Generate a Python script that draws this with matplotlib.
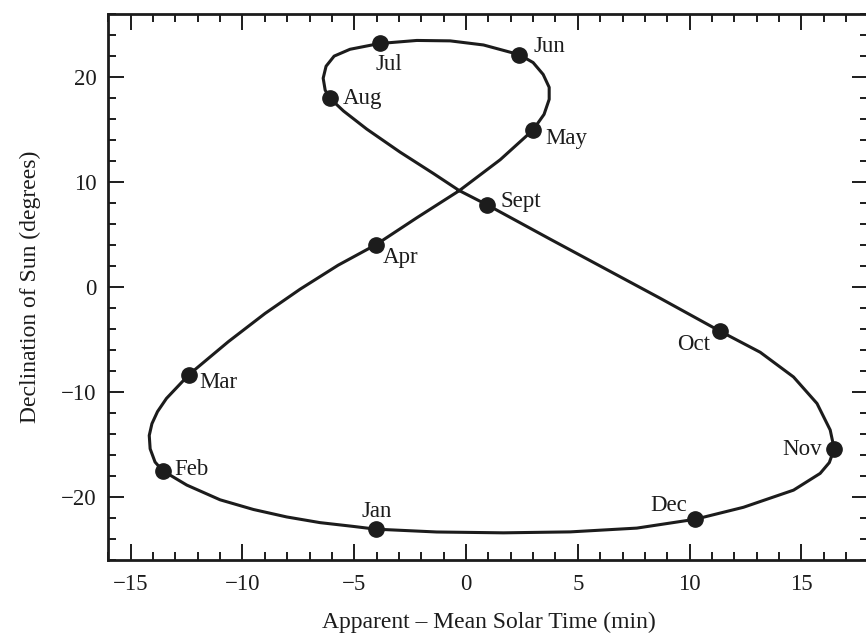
import matplotlib
matplotlib.use('Agg')
import matplotlib.pyplot as plt
from matplotlib.ticker import MultipleLocator

# points, starting at Jan and going round the year
curve_x = [-4.04, -5.04, -6.53, -8.02, -9.51, -11.0, -12.49, -13.57, -13.91, -14.13,
           -14.17, -14.05, -13.80, -13.40, -12.39, -11.53, -10.63, -8.99, -7.42, -5.72,
           -4.02, -2.20, -0.30, 1.53, 2.99, 3.49, 3.72, 3.72, 3.45, 3.00,
           2.38, 0.78, -0.71, -2.20, -3.87, -5.19, -5.90, -6.26, -6.39, -6.30,
           -6.08, -5.48, -4.44, -2.95, -1.46, -0.30, 0.96, 3.76, 6.22, 8.68,
           11.34, 13.16, 14.65, 15.70, 16.29, 16.47, 16.25, 15.84, 14.65, 12.41,
           10.25, 7.64, 4.66, 1.67, -1.31, -4.04]
curve_y = [-23.03, -22.77, -22.41, -21.87, -21.16, -20.24, -18.84, -17.47, -16.65, -15.39,
           -14.12, -13.00, -11.85, -10.60, -8.33, -6.80, -5.20, -2.52, -0.21, 2.07,
           4.03, 6.58, 9.16, 12.10, 14.91, 16.41, 17.84, 18.98, 20.21, 21.34,
           22.09, 23.01, 23.40, 23.44, 23.15, 22.60, 21.95, 20.99, 19.85, 18.71,
           17.93, 16.73, 15.01, 12.82, 10.79, 9.16, 7.79, 4.55, 1.74, -1.07,
           -4.18, -6.21, -8.56, -11.08, -13.60, -15.40, -16.70, -17.73, -19.32, -20.95,
           -22.09, -22.93, -23.29, -23.38, -23.30, -23.03]

months = ['Jan', 'Feb', 'Mar', 'Apr', 'May', 'Jun', 'Jul', 'Aug', 'Sept', 'Oct', 'Nov', 'Dec']
month_x = [-4.04, -13.57, -12.39, -4.02, 2.99, 2.38, -3.87, -6.08, 0.96, 11.34, 16.47, 10.25]
month_y = [-23.03, -17.47, -8.33, 4.03, 14.91, 22.09, 23.15, 17.93, 7.79, -4.18, -15.40, -22.09]

# label offset (pixels) and alignment for each month name
lab_dx = [1, 12, 10, 7, 12, 14, 9, 13, 13, -9, -12, -8]
lab_dy = [18, 1, -8, -13, -8, 8, -21, 0, 4, -14, -1, 14]
lab_ha = ['center', 'left', 'left', 'left', 'left', 'left', 'center', 'left', 'left', 'right', 'right', 'right']

ink = '#1c1c1c'
serif = ['Liberation Serif', 'DejaVu Serif']

fig = plt.figure(figsize=(8.66, 6.35), dpi=100)
ax = fig.add_axes([0.1251, 0.1175, 0.8777, 0.8612])

ax.plot(curve_x, curve_y, color=ink, lw=2.2, solid_capstyle='round', solid_joinstyle='round', zorder=2)
ax.plot(month_x, month_y, 'o', color=ink, ms=11, zorder=3)

for i in range(len(months)):
    ax.annotate(months[i], (month_x[i], month_y[i]), xytext=(lab_dx[i], lab_dy[i]),
                textcoords='offset pixels', ha=lab_ha[i], va='center',
                fontsize=16.5, family=serif, color=ink)

ax.set_xlim(-16, 18)
ax.set_ylim(-26, 26)
ax.xaxis.set_major_locator(MultipleLocator(5))
ax.xaxis.set_minor_locator(MultipleLocator(1))
ax.yaxis.set_major_locator(MultipleLocator(10))
ax.yaxis.set_minor_locator(MultipleLocator(2))

ax.tick_params(which='both', direction='in', top=True, right=True, color=ink, width=1.4)
ax.tick_params(which='major', length=11.5)
ax.tick_params(which='minor', length=5.8)
ax.tick_params(axis='x', which='major', pad=10)
ax.tick_params(axis='y', which='major', pad=8.5)
for lab in ax.get_xticklabels() + ax.get_yticklabels():
    lab.set_fontfamily(serif)
    lab.set_fontsize(16.5)
    lab.set_color(ink)

for s in ax.spines.values():
    s.set_linewidth(2)
    s.set_color(ink)

ax.set_xlabel('Apparent \u2013 Mean Solar Time (min)', fontsize=17, family=serif, color=ink)
ax.set_ylabel('Declination of Sun (degrees)', fontsize=17, family=serif, color=ink, labelpad=14)
ax.xaxis.set_label_coords(0.5, -0.094)

fig.savefig('out.png', dpi=100)
